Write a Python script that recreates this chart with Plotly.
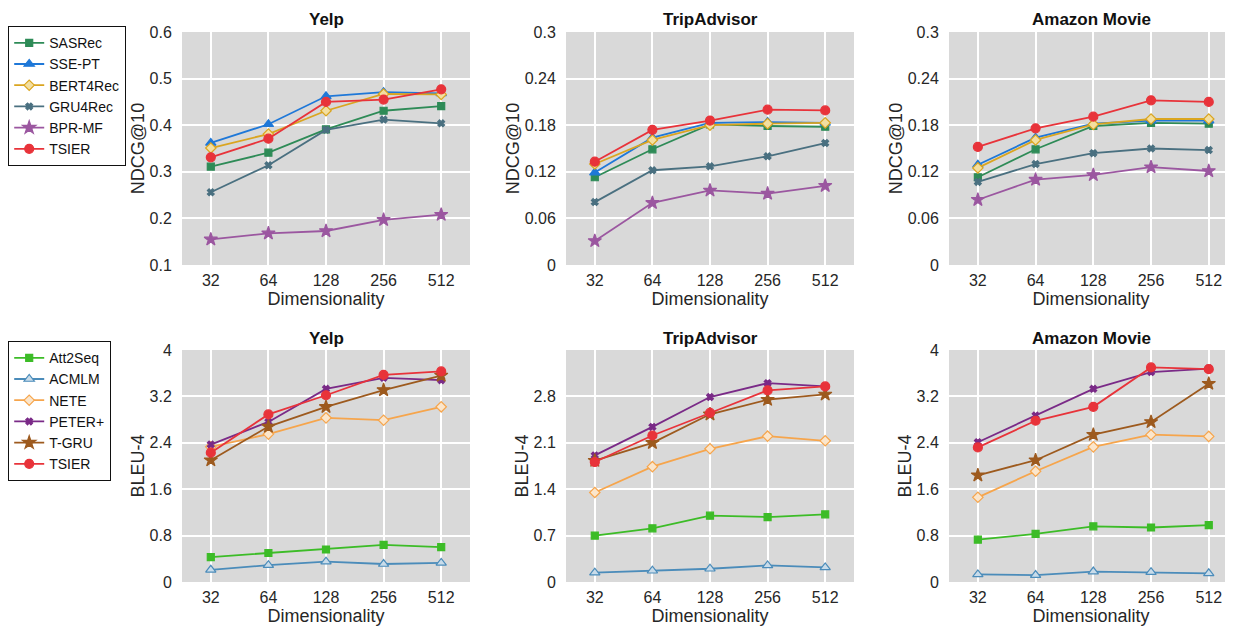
import plotly.graph_objects as go

OFF = 8  # default page margin of the html body
W, H = 1233 - OFF, 627 - OFF
dims = ["32", "64", "128", "256", "512"]
datasets = ["Yelp", "TripAdvisor", "Amazon Movie"]

# ---- NDCG@10 (top row) ----
rec_models = ["SASRec", "SSE-PT", "BERT4Rec", "GRU4Rec", "BPR-MF", "TSIER"]
ndcg_yelp = {
    "SASRec":   [0.311, 0.341, 0.391, 0.431, 0.441],
    "SSE-PT":   [0.362, 0.402, 0.462, 0.471, 0.468],
    "BERT4Rec": [0.351, 0.381, 0.431, 0.467, 0.466],
    "GRU4Rec":  [0.256, 0.314, 0.390, 0.412, 0.404],
    "BPR-MF":   [0.155, 0.168, 0.173, 0.197, 0.208],
    "TSIER":    [0.331, 0.371, 0.450, 0.455, 0.477],
}
ndcg_trip = {
    "SASRec":   [0.113, 0.149, 0.181, 0.179, 0.178],
    "SSE-PT":   [0.119, 0.164, 0.183, 0.184, 0.183],
    "BERT4Rec": [0.130, 0.161, 0.180, 0.182, 0.183],
    "GRU4Rec":  [0.081, 0.122, 0.127, 0.140, 0.157],
    "BPR-MF":   [0.031, 0.080, 0.096, 0.092, 0.102],
    "TSIER":    [0.133, 0.174, 0.186, 0.200, 0.199],
}
ndcg_amazon = {
    "SASRec":   [0.113, 0.149, 0.179, 0.183, 0.182],
    "SSE-PT":   [0.129, 0.164, 0.182, 0.186, 0.186],
    "BERT4Rec": [0.125, 0.161, 0.181, 0.188, 0.188],
    "GRU4Rec":  [0.107, 0.130, 0.144, 0.150, 0.148],
    "BPR-MF":   [0.084, 0.110, 0.116, 0.126, 0.121],
    "TSIER":    [0.152, 0.176, 0.191, 0.212, 0.210],
}

# ---- BLEU-4 (bottom row) ----
gen_models = ["Att2Seq", "ACMLM", "NETE", "PETER+", "T-GRU", "TSIER"]
bleu_yelp = {
    "Att2Seq": [0.43, 0.50, 0.56, 0.64, 0.60],
    "ACMLM":   [0.21, 0.29, 0.35, 0.31, 0.33],
    "NETE":    [2.33, 2.55, 2.83, 2.79, 3.02],
    "PETER+":  [2.37, 2.76, 3.33, 3.52, 3.48],
    "T-GRU":   [2.10, 2.68, 3.02, 3.31, 3.56],
    "TSIER":   [2.23, 2.89, 3.22, 3.57, 3.63],
}
bleu_trip = {
    "Att2Seq": [0.70, 0.81, 1.00, 0.98, 1.02],
    "ACMLM":   [0.14, 0.17, 0.20, 0.25, 0.22],
    "NETE":    [1.35, 1.74, 2.01, 2.20, 2.13],
    "PETER+":  [1.91, 2.34, 2.79, 3.00, 2.95],
    "T-GRU":   [1.83, 2.10, 2.53, 2.75, 2.83],
    "TSIER":   [1.81, 2.21, 2.55, 2.89, 2.95],
}
bleu_amazon = {
    "Att2Seq": [0.73, 0.83, 0.96, 0.94, 0.98],
    "ACMLM":   [0.13, 0.12, 0.18, 0.17, 0.15],
    "NETE":    [1.46, 1.91, 2.33, 2.54, 2.51],
    "PETER+":  [2.41, 2.87, 3.33, 3.62, 3.68],
    "T-GRU":   [1.84, 2.10, 2.54, 2.76, 3.42],
    "TSIER":   [2.32, 2.78, 3.02, 3.70, 3.67],
}

ndcg_ticks = [[0.1, 0.2, 0.3, 0.4, 0.5, 0.6],
              [0, 0.06, 0.12, 0.18, 0.24, 0.3],
              [0, 0.06, 0.12, 0.18, 0.24, 0.3]]
ndcg_ticktext = [["0.1", "0.2", "0.3", "0.4", "0.5", "0.6"],
                 ["0", "0.06", "0.12", "0.18", "0.24", "0.3"],
                 ["0", "0.06", "0.12", "0.18", "0.24", "0.3"]]
ndcg_ranges = [[0.1, 0.6], [0, 0.3], [0, 0.3]]
bleu_ticks = [[0, 0.8, 1.6, 2.4, 3.2, 4],
              [0, 0.7, 1.4, 2.1, 2.8],
              [0, 0.8, 1.6, 2.4, 3.2, 4]]
bleu_ticktext = [["0", "0.8", "1.6", "2.4", "3.2", "4"],
                 ["0", "0.7", "1.4", "2.1", "2.8"],
                 ["0", "0.8", "1.6", "2.4", "3.2", "4"]]
bleu_ranges = [[0, 4], [0, 3.5], [0, 4]]

styles = {
    "SASRec":   dict(color="#2e8b57", symbol="square", size=7, fill="#2e8b57"),
    "SSE-PT":   dict(color="#1f78d8", symbol="triangle-up", size=9, fill="#1f78d8"),
    "BERT4Rec": dict(color="#daa520", symbol="diamond", size=8, fill="#f3dfa0"),
    "GRU4Rec":  dict(color="#4a7080", symbol="x", size=6, fill="#4a7080"),
    "BPR-MF":   dict(color="#9b57a0", symbol="star", size=10, fill="#9b57a0"),
    "TSIER":    dict(color="#e8333a", symbol="circle", size=9, fill="#e8333a"),
    "Att2Seq":  dict(color="#3cbc27", symbol="square", size=7, fill="#3cbc27"),
    "ACMLM":    dict(color="#4b8cba", symbol="triangle-up", size=9, fill="#c9dcea"),
    "NETE":     dict(color="#f6a54c", symbol="diamond", size=8, fill="#fbe6cc"),
    "PETER+":   dict(color="#7a2a87", symbol="x", size=6, fill="#7a2a87"),
    "T-GRU":    dict(color="#9d5a1e", symbol="star", size=10, fill="#9d5a1e"),
}

FONT = "Liberation Sans, Arial, sans-serif"
TXT = "#262626"

# screen-pixel geometry of panels
xpix = [(182, 470), (566, 854), (949, 1233)]
xranges = [[-0.5, 4.5], [-0.5, 4.5], [-0.5, 4.42]]
ypix = [(32, 265), (350, 582)]


def fx(p):
    return (p - OFF) / W


def fy(p):
    return 1 - (p - OFF) / H


fig = go.Figure()
layout = dict(
    width=W, height=H, margin=dict(l=0, r=0, t=0, b=0, autoexpand=False),
    paper_bgcolor="white", plot_bgcolor="#d9d9d9",
    font=dict(family=FONT, color=TXT, size=16),
    showlegend=True,
)

annotations = []
rows = [(rec_models, [ndcg_yelp, ndcg_trip, ndcg_amazon], "NDCG@10", ndcg_ticks, ndcg_ticktext, ndcg_ranges, "legend"),
        (gen_models, [bleu_yelp, bleu_trip, bleu_amazon], "BLEU-4", bleu_ticks, bleu_ticktext, bleu_ranges, "legend2")]

idx = 0
for r, (models, dsets, ytitle, ticks, ticktext, yranges, leg) in enumerate(rows):
    y0, y1 = ypix[r]
    for c in range(3):
        idx += 1
        xa = "xaxis" if idx == 1 else f"xaxis{idx}"
        ya = "yaxis" if idx == 1 else f"yaxis{idx}"
        xref = "x" if idx == 1 else f"x{idx}"
        yref = "y" if idx == 1 else f"y{idx}"
        xl, xr = xpix[c]
        layout[xa] = dict(
            domain=[fx(xl), min(fx(xr), 1)], anchor=yref, type="category",
            categoryorder="array", categoryarray=dims, range=xranges[c],
            showgrid=True, gridcolor="white", gridwidth=1.6,
            ticks="outside", ticklen=1, tickcolor="rgba(0,0,0,0)",
            tickfont=dict(size=16, color=TXT),
            title=dict(text="Dimensionality", font=dict(size=18, color=TXT), standoff=1),
            showline=False, zeroline=False, fixedrange=True, automargin=False,
        )
        layout[ya] = dict(
            domain=[fy(y1), fy(y0)], anchor=xref,
            range=yranges[c], tickvals=ticks[c], ticktext=ticktext[c],
            showgrid=True, gridcolor="white", gridwidth=1.6,
            ticks="outside", ticklen=6, tickcolor="rgba(0,0,0,0)",
            tickfont=dict(size=16, color=TXT),
            title=dict(text=ytitle, font=dict(size=18, color=TXT), standoff=0),
            showline=False, zeroline=False, fixedrange=True, automargin=False,
        )
        data = dsets[c]
        for m in models:
            s = styles[m]
            fig.add_trace(go.Scatter(
                x=dims, y=data[m], mode="lines+markers", name=m,
                xaxis=xref, yaxis=yref, legend=leg, showlegend=(c == 0),
                line=dict(color=s["color"], width=1.8),
                marker=dict(symbol=s["symbol"], size=s["size"], color=s["fill"],
                            line=dict(color=s["color"], width=1.2)),
                cliponaxis=False,
            ))
        annotations.append(dict(
            text=f"<b>{datasets[c]}</b>", xref="paper", yref="paper",
            x=fx((xl + min(xr, xl + 288)) / 2), y=fy(y0 - 12),
            xanchor="center", yanchor="middle", showarrow=False,
            font=dict(size=17, color="#111", family=FONT),
        ))

legend_common = dict(
    bgcolor="white", bordercolor="#111", borderwidth=1.2,
    font=dict(size=14, color="#111", family=FONT),
    xanchor="left", yanchor="top", tracegroupgap=0, itemwidth=30,
)
layout["legend"] = dict(x=fx(8), y=fy(26), **legend_common)
layout["legend2"] = dict(x=fx(8), y=fy(341), **legend_common)
layout["annotations"] = annotations

fig.update_layout(**layout)
fig.write_html("out.html")
